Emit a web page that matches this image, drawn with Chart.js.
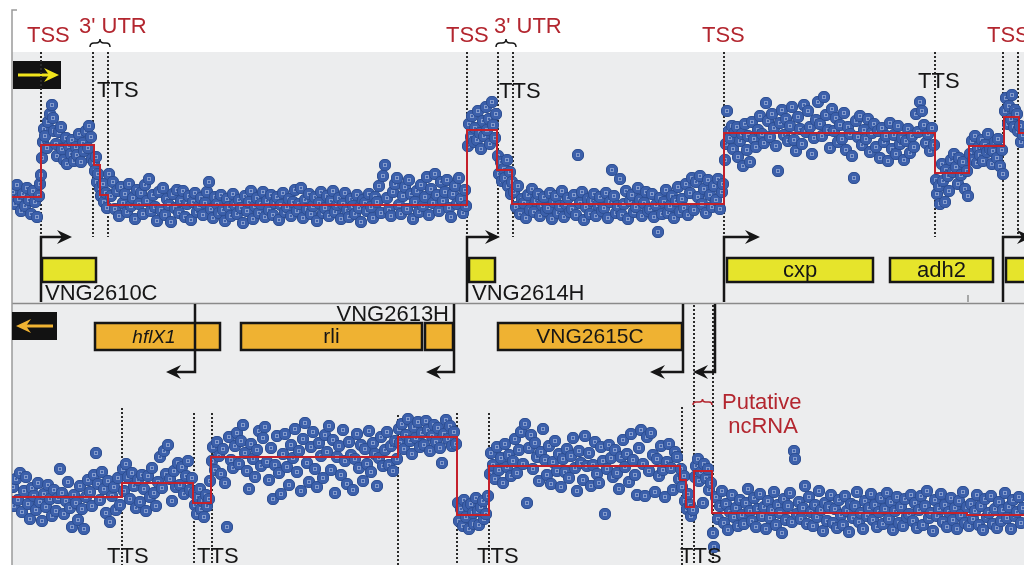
<!DOCTYPE html>
<html>
<head>
<meta charset="utf-8">
<script src="https://cdn.jsdelivr.net/npm/chart.js@4.4.1/dist/chart.umd.min.js"></script>
<style>
  html, body { margin: 0; padding: 0; background: #fff; overflow: hidden; }
  #wrap { position: relative; width: 1024px; height: 565px; }
  canvas { position: absolute; left: 0; display: block; }
  #fwd { top: 0; }
  #rev { top: 302px; }
</style>
</head>
<body>
<div id="wrap">
  <canvas id="fwd" width="1024" height="302"></canvas>
  <canvas id="rev" width="1024" height="263"></canvas>
</div>
<script>
// probe signal, forward strand: [position, log2 intensity]
const fwdProbes = [
  [13,10.8],[15,9.6],[17,11.5],[19,10.1],[21,8.9],[23,10.6],[25,9.4],[27,11.2],[29,10.0],[31,8.6],[33,10.9],[35,9.8],[37,8.3],[39,10.4],[40,11.6],
  [41,12.5],[42,14.2],[43,15.8],[44,17.1],[45,16.4],[47,15.2],[48,17.8],[50,18.6],[52,19.5],[53,18.2],[54,16.9],[56,15.6],[57,14.4],[59,16.8],[61,17.3],[62,15.1],[64,14.0],[66,16.2],[67,13.6],[69,15.4],[71,14.6],[72,16.0],[74,13.9],[76,15.3],[77,14.5],[79,16.6],[81,13.8],[83,15.7],[84,14.9],[86,16.9],[88,15.2],[89,17.4],[91,16.3],[92,14.1],
  [94,13.8],[95,12.9],[96,14.3],[97,11.8],[98,12.6],[100,11.2],[101,10.4],[103,11.6],[104,9.8],[106,10.7],[107,9.2],
  [109,12.6],[111,10.4],[113,11.8],[115,9.1],[117,10.9],[119,8.4],[121,11.3],[123,9.7],[125,10.6],[127,8.8],[129,11.6],[131,9.4],[133,10.2],[135,8.1],[137,11.0],[139,9.6],[141,10.7],[143,8.6],[145,11.5],[147,9.9],[149,12.1],[151,8.9],[153,10.5],[155,9.3],[157,7.9],[159,10.8],[161,9.0],[163,11.2],[165,8.5],[167,10.1],[169,9.5],[171,7.8],[173,10.6],[175,9.2],[177,11.0],[179,8.7],[181,9.9],[183,10.9],[185,8.3],[187,9.6],[189,10.4],[191,8.0],[193,9.8],[195,10.7],[197,8.8],[199,9.4],[201,10.2],[203,8.5],[205,9.7],[207,10.8],[209,11.8],[211,9.1],[213,8.2],[215,10.3],[217,9.6],[219,8.7],[221,10.5],[223,9.0],[225,7.9],[227,10.1],[229,9.3],[231,8.4],[233,10.6],[235,9.5],[237,8.6],[239,10.0],[241,9.2],[243,7.7],[245,10.4],[247,8.9],[249,9.8],[251,10.9],[253,8.1],[255,9.4],[257,10.2],[259,8.7],[261,9.6],[263,10.8],[265,8.3],[267,9.9],[269,9.0],[271,10.5],[273,8.5],[275,9.7],[277,10.3],[279,8.0],[281,9.5],[283,10.7],[285,8.8],[287,9.3],[289,10.1],[291,8.4],[293,9.8],[295,11.0],[297,8.9],[299,9.6],[301,11.2],[303,8.2],[305,10.0],[307,9.1],[309,10.6],[311,8.6],[313,9.4],[315,10.3],[317,7.9],[319,9.7],[321,10.8],[323,8.7],[325,9.2],[327,10.4],[329,8.4],[331,9.9],[333,10.9],[335,8.8],[337,9.5],[339,10.2],[341,8.1],[343,9.6],[345,10.7],[347,9.0],[349,8.3],[351,10.1],[353,9.4],[355,8.6],[357,10.5],[359,9.2],[361,7.8],[363,10.0],[365,9.7],[367,8.9],[369,10.6],[371,9.3],[373,8.2],[375,10.3],[377,9.8],[379,11.4],[381,8.7],[383,12.4],[385,13.5],[387,10.2],[389,9.0],[391,8.4],[393,10.8],[395,11.6],[397,12.2],[399,9.5],[401,8.6],[403,10.4],[405,11.3],[407,9.1],[409,12.0],[411,10.6],[413,8.1],[415,9.8],[417,10.9],[419,8.8],[421,11.5],[423,9.4],[425,10.3],[427,12.3],[429,8.5],[431,11.1],[433,9.7],[435,12.6],[437,10.5],[439,8.9],[441,11.8],[443,9.9],[445,10.8],[447,12.0],[449,9.2],[451,8.3],[453,10.6],[455,11.4],[457,9.6],[459,12.2],[461,10.1],[463,8.7],[465,11.0],[466,9.4],
  [468,15.4],[469,17.6],[471,16.3],[472,18.4],[474,15.8],[475,17.2],[477,16.0],[478,18.9],[480,16.7],[481,15.1],[483,17.9],[484,16.4],[486,19.3],[487,17.0],[489,18.1],[490,15.6],[492,19.8],[493,17.5],[495,16.2],[496,18.6],
  [498,14.4],[499,12.6],[501,13.8],[502,11.9],[504,13.1],[505,12.2],[507,14.0],[508,11.4],[510,12.8],[511,10.6],[512,11.8],
  [514,10.8],[516,9.3],[518,11.4],[520,8.6],[522,10.1],[524,9.7],[526,8.2],[528,10.5],[530,9.0],[532,11.1],[534,8.8],[536,9.9],[538,10.6],[540,8.4],[542,9.5],[544,10.3],[546,8.9],[548,9.2],[550,10.7],[552,8.1],[554,9.8],[556,10.4],[558,8.7],[560,9.4],[562,10.9],[564,8.3],[566,9.6],[568,10.2],[570,8.8],[572,9.1],[574,10.5],[576,8.5],[578,14.5],[580,9.7],[582,10.8],[584,8.0],[586,9.3],[588,10.1],[590,8.6],[592,9.9],[594,10.6],[596,8.4],[598,9.5],[600,10.3],[602,8.9],[604,9.2],[606,10.7],[608,8.2],[610,9.8],[612,13.0],[614,10.4],[616,8.7],[618,9.4],[620,12.1],[622,8.5],[624,9.6],[626,10.9],[628,8.1],[630,9.9],[632,10.5],[634,8.8],[636,9.3],[638,11.2],[640,10.0],[642,8.4],[644,9.7],[646,10.8],[648,8.9],[650,9.1],[652,10.6],[654,8.3],[656,9.5],[658,6.8],[660,10.2],[662,8.6],[664,9.8],[666,11.0],[668,8.7],[670,9.4],[672,10.4],[674,8.2],[676,9.9],[678,11.3],[680,8.8],[682,10.1],[684,9.2],[686,11.6],[688,8.5],[690,10.7],[692,12.2],[694,9.0],[696,11.8],[698,10.3],[700,12.4],[702,9.6],[704,11.1],[706,8.7],[708,12.0],[710,10.5],[712,9.3],[714,11.4],[716,10.0],[718,12.1],[720,9.1],[722,10.8],[723,11.6],
  [725,14.0],[726,15.6],[727,18.9],[729,16.9],[730,16.2],[732,17.4],[733,15.1],[735,16.8],[737,17.3],[738,14.3],[740,15.9],[742,16.6],[743,13.4],[745,17.6],[747,15.0],[748,16.4],[750,13.8],[752,17.8],[754,16.1],[756,15.3],[758,17.0],[760,18.4],[762,16.6],[764,15.7],[766,19.7],[768,17.9],[770,16.3],[772,18.6],[774,17.2],[776,15.4],[778,12.9],[780,17.7],[782,19.0],[784,16.5],[786,18.1],[788,15.9],[790,17.4],[792,19.3],[794,16.0],[796,14.9],[798,18.3],[800,17.1],[802,15.6],[804,19.5],[806,16.8],[808,18.9],[810,17.3],[812,14.6],[814,16.2],[816,18.0],[818,19.8],[820,17.6],[822,16.4],[824,20.3],[826,18.5],[828,17.0],[830,15.2],[832,19.1],[834,16.9],[836,18.2],[838,15.8],[840,17.5],[842,16.1],[844,18.7],[846,15.0],[848,17.3],[850,16.6],[852,14.4],[854,12.2],[856,17.9],[858,16.3],[860,18.4],[862,15.5],[864,17.0],[866,16.1],[868,18.1],[870,14.8],[872,16.7],[874,17.6],[876,15.3],[878,16.9],[880,14.2],[882,17.2],[884,15.8],[886,16.4],[888,13.9],[890,17.7],[892,15.1],[894,16.5],[896,14.6],[898,17.4],[900,15.6],[902,16.2],[904,14.0],[906,15.9],[908,17.1],[910,14.7],[912,16.4],[914,15.3],[916,18.6],[918,16.8],[920,19.8],[922,18.9],[924,17.5],[926,15.7],[928,16.6],[930,14.9],[932,17.2],[934,15.5],
  [936,12.0],[937,10.6],[939,11.4],[940,9.6],[942,13.6],[943,11.9],[945,9.8],[946,13.0],[948,12.4],[949,10.9],[951,14.0],[953,12.8],[954,14.6],[956,13.3],[958,11.6],[959,14.2],[961,12.5],[963,13.8],[965,11.1],[967,12.9],[968,10.4],
  [970,14.6],[972,15.9],[973,14.0],[975,16.4],[977,13.7],[978,15.2],[980,14.5],[982,16.0],[983,13.9],[985,15.5],[987,14.8],[988,16.6],[990,15.1],[992,13.6],[993,14.9],[995,15.8],[997,14.2],[998,16.1],[1000,13.4],[1002,15.0],[1003,12.6],
  [1005,18.9],[1006,20.2],[1008,17.6],[1009,19.4],[1011,18.1],[1012,20.5],[1014,17.3],[1015,19.0],[1017,18.6],[1018,16.9],
  [1020,17.4],[1021,15.8],[1023,16.5]
];

// probe signal, reverse strand
const revProbes = [
  [13,10.8],[14,8.9],[16,11.6],[18,9.5],[20,12.2],[22,8.3],[24,10.4],[26,11.8],[28,9.1],[30,7.6],[32,10.7],[34,9.9],[36,8.5],[38,11.2],[40,9.3],[42,7.4],[44,10.1],[46,8.8],[48,11.0],[50,9.6],[52,7.9],[54,10.5],[56,8.4],[58,9.7],[60,12.6],[62,10.2],[64,8.1],[66,9.4],[68,11.3],[70,8.7],[72,6.8],[74,10.0],[76,9.2],[78,7.5],[80,10.9],[82,8.6],[84,6.6],[86,9.8],[88,11.5],[90,10.3],[92,8.9],[94,12.0],[96,14.2],[98,11.1],[100,9.5],[102,12.3],[104,10.6],[106,8.2],[108,11.4],[110,7.3],[112,9.9],[114,10.8],[116,8.5],[118,11.7],[120,9.0],
  [123,12.6],[124,10.4],[126,13.1],[128,11.8],[130,9.6],[132,12.2],[134,10.9],[136,8.7],[138,11.5],[140,9.3],[142,12.0],[144,10.6],[146,8.4],[148,11.9],[150,9.8],[152,12.7],[154,10.2],[156,8.9],[158,11.3],[160,13.8],[162,10.7],[164,14.4],[166,12.1],[168,15.0],[170,11.6],[172,9.4],[174,12.4],[176,10.8],[178,13.2],[180,11.0],[182,12.8],[184,10.1],[186,11.9],[188,13.4],[190,10.5],[192,11.7],
  [194,10.2],[195,9.0],[197,8.1],[198,9.8],[200,10.6],[201,8.6],[203,9.4],[204,7.8],[206,10.0],[207,8.9],[209,9.6],[210,11.4],
  [212,13.4],[213,14.8],[215,12.5],[217,15.3],[219,13.9],[221,12.1],[223,14.6],[225,11.2],[227,6.8],[229,15.8],[231,13.5],[233,12.7],[235,14.9],[237,16.2],[239,13.1],[241,15.4],[243,17.0],[245,14.2],[247,12.4],[249,10.6],[251,15.1],[253,13.6],[255,11.8],[257,14.5],[259,16.4],[261,12.9],[263,15.7],[265,16.8],[267,13.3],[269,11.5],[271,14.7],[273,9.6],[275,13.0],[277,15.9],[279,12.2],[281,10.1],[283,14.1],[285,16.1],[287,12.8],[289,11.0],[291,15.0],[293,13.7],[295,16.6],[297,12.3],[299,14.4],[301,10.4],[303,15.6],[305,17.2],[307,13.2],[309,11.3],[311,14.8],[313,16.3],[315,12.6],[317,10.8],[319,15.2],[321,13.9],[323,11.7],[325,16.0],[327,14.3],[329,16.9],[331,12.5],[333,15.5],[335,10.2],[337,13.8],[339,14.9],[341,12.0],[343,16.5],[345,13.4],[347,11.1],[349,15.3],[351,14.0],[353,10.5],[355,13.6],[357,16.1],[359,12.7],[361,15.0],[363,11.4],[365,14.6],[367,13.1],[369,16.4],[371,12.3],[373,15.2],[375,14.1],[377,10.9],[379,13.7],[381,15.8],[383,12.9],[385,14.5],[387,16.3],[389,13.0],[391,14.9],[393,12.4],[395,15.4],[397,13.6],
  [399,16.6],[400,15.2],[402,17.1],[404,14.6],[406,16.0],[408,17.6],[410,15.4],[412,14.1],[414,16.8],[416,15.7],[418,17.3],[420,14.8],[422,16.2],[424,15.0],[426,17.4],[428,16.5],[430,14.4],[432,15.9],[434,17.0],[436,15.3],[438,16.7],[440,14.7],[442,13.2],[444,16.1],[446,17.5],[448,15.6],[450,16.9],[452,14.9],[454,16.3],[456,15.1],
  [458,9.2],[459,7.4],[461,8.6],[463,6.9],[464,9.5],[466,7.8],[468,8.9],[469,6.6],[471,9.1],[473,8.2],[474,7.1],[476,9.7],[478,8.4],[479,7.0],[481,8.8],[483,9.4],[484,7.6],[486,8.1],[488,9.9],
  [490,12.1],[491,14.2],[493,13.0],[495,11.6],[497,14.8],[499,12.5],[501,13.7],[503,11.2],[505,15.1],[507,12.8],[509,14.0],[511,11.9],[513,13.4],[515,15.6],[517,12.2],[519,14.5],[521,16.3],[523,13.1],[525,17.1],[527,9.2],[529,14.7],[531,16.0],[533,12.6],[535,15.2],[537,13.8],[539,11.4],[541,14.3],[543,16.6],[545,13.5],[547,12.0],[549,14.9],[551,11.1],[553,13.3],[555,15.4],[557,12.4],[559,14.1],[561,10.8],[563,13.6],[565,12.3],[567,14.6],[569,11.7],[571,13.9],[573,15.7],[575,12.7],[577,10.4],[579,14.4],[581,13.2],[583,11.5],[585,15.9],[587,12.9],[589,14.2],[591,10.9],[593,13.0],[595,15.3],[597,12.1],[599,11.2],[601,14.8],[603,13.4],[605,8.1],[607,12.6],[609,15.0],[611,13.7],[613,11.8],[615,14.5],[617,12.2],[619,10.6],[621,13.8],[623,15.5],[625,12.8],[627,14.1],[629,11.3],[631,16.1],[633,13.5],[635,12.0],[637,10.0],[639,14.7],[641,16.5],[643,13.1],[645,9.9],[647,15.8],[649,12.4],[651,16.2],[653,14.0],[655,10.3],[657,13.6],[659,11.9],[661,14.9],[663,12.5],[665,9.8],[667,13.3],[669,15.1],[671,12.7],[673,10.5],[675,14.3],[677,13.8],[679,11.6],
  [681,12.6],[682,10.8],[684,11.9],[685,9.4],[687,8.6],[688,10.1],[690,9.0],[691,7.9],[693,8.5],[695,11.8],[696,12.9],[698,13.6],[699,11.4],[701,12.3],[703,9.2],[704,13.1],[706,11.7],[708,12.6],[709,10.5],[711,11.2],[713,6.2],[714,4.8],
  [716,9.8],[718,7.6],[720,8.9],[722,10.4],[724,7.2],[726,9.1],[728,6.5],[730,8.3],[732,10.0],[734,7.8],[736,8.7],[738,6.9],[740,9.5],[742,8.0],[744,7.1],[746,9.2],[748,10.6],[750,8.4],[752,7.4],[754,9.7],[756,6.8],[758,8.6],[760,10.1],[762,7.9],[764,8.8],[766,6.6],[768,9.4],[770,7.7],[772,8.5],[774,10.3],[776,7.0],[778,9.0],[780,8.2],[782,6.2],[784,9.6],[786,7.5],[788,8.9],[790,10.2],[792,7.3],[794,14.4],[795,13.6],[797,8.1],[799,9.3],[801,7.6],[803,8.7],[805,10.9],[807,7.1],[809,9.8],[811,8.3],[813,6.9],[815,9.0],[817,7.8],[819,10.4],[821,8.5],[823,6.4],[825,9.2],[827,7.4],[829,8.8],[831,10.0],[833,7.2],[835,8.6],[837,6.7],[839,9.5],[841,8.0],[843,7.0],[845,9.9],[847,8.4],[849,6.3],[851,9.1],[853,7.7],[855,8.9],[857,10.3],[859,7.3],[861,8.2],[863,6.6],[865,9.4],[867,7.9],[869,8.7],[871,10.1],[873,7.5],[875,9.0],[877,6.8],[879,8.3],[881,9.7],[883,7.1],[885,8.6],[887,10.2],[889,7.6],[891,9.3],[893,6.5],[895,8.4],[897,9.8],[899,7.2],[901,8.8],[903,6.9],[905,9.6],[907,7.8],[909,8.1],[911,10.0],[913,7.4],[915,9.2],[917,6.7],[919,8.5],[921,9.9],[923,7.0],[925,8.9],[927,10.4],[929,7.7],[931,8.2],[933,6.4],[935,9.5],[937,7.9],[939,8.6],[941,10.1],[943,7.3],[945,9.0],[947,6.8],[949,8.3],[951,9.7],[953,7.5],[955,8.7],[957,6.6],[959,9.4],[961,8.0],[963,10.3],[965,7.2],[967,8.8],[969,6.9],[971,9.1],[973,7.6],[975,8.4],[977,10.0],[979,7.0],[981,8.9],[983,6.5],[985,9.6],[987,7.8],[989,8.2],[991,9.9],[993,7.1],[995,8.6],[997,6.7],[999,9.3],[1001,7.4],[1003,8.5],[1005,10.2],[1007,7.7],[1009,8.8],[1011,6.6],[1013,9.5],[1015,7.9],[1017,8.3],[1019,9.8],[1021,7.2],[1023,8.7]
];

// segmentation: [start, end, level]
const fwdSegments = [[12,41,10.3],[41,94,15.5],[94,100,13.5],[100,108,10.5],[108,467,9.5],[467,497,17.0],[497,512,13.0],[512,724,9.6],[724,935,16.7],[935,969,12.7],[969,1004,15.4],[1004,1019,18.3],[1019,1024,16.7]];
const revSegments = [[12,122,9.8],[122,193,11.2],[193,211,9.2],[211,398,13.8],[398,457,15.8],[457,489,8.0],[489,680,12.9],[680,686,11.5],[686,694,8.8],[694,712,12.4],[712,967,8.2],[967,1024,8.0]];

// transcript boundaries (dotted lines)
const fwdBounds = [41, 93, 108, 467, 498, 513, 724, 935, 1003, 1018];
const revBounds = [122, 194, 212, 398, 457, 489, 682, 694, 713];
const revBoundTop = [18.7, 18.2, 18.2, 18.0, 18.2, 18.2, 18.8, 29, 29];

// annotations
const headerLabels = [['TSS', 27, 'low'], ["3' UTR", 79, 'high'], ['TSS', 446, 'low'], ["3' UTR", 494, 'high'], ['TSS', 702, 'low'], ['TSS', 987, 'low']];
const utrBraces = [[90, 110], [496, 516]];
const fwdTTS = [[97, 20.3], [499, 20.2], [918, 21.2]];
const revTTS = [107, 197, 477, 680];
const fwdGenes = [[42, 96, 'VNG2610C', 'below'], [469, 495, 'VNG2614H', 'below'], [727, 873, 'cxp', 'inside'], [890, 993, 'adh2', 'inside'], [1006, 1040, '', 'inside']];
const revGenes = [[95, 220, 'hflX1', 'italic'], [241, 422, 'rli', 'inside'], [425, 453, '', 'inside'], [498, 682, 'VNG2615C', 'inside']];
const fwdPromoters = [[41, 72], [467, 500], [724, 760], [1003, 1032]];
const revPromoters = [[195, 166], [454, 426], [683, 650], [715, 693]];

const FONT = '"Liberation Sans", Arial, Helvetica, sans-serif';
const RED = '#b3262f';
const INK = '#161616';
const PANEL_BG = '#ecedee';

function probeGlyph() {
  const c = document.createElement('canvas');
  c.width = 12; c.height = 12;
  const g = c.getContext('2d');
  g.fillStyle = '#3c60ab';
  g.strokeStyle = '#2e4f93';
  g.lineWidth = 1;
  g.beginPath();
  g.roundRect(0.5, 0.5, 11, 11, 4.5);
  g.fill();
  g.stroke();
  g.strokeStyle = 'rgba(220,228,245,0.45)';
  g.strokeRect(4.5, 4.5, 3, 3);
  return c;
}

function stepLine(segs) {
  const pts = [];
  segs.forEach(s => {
    pts.push({ x: s[0], y: s[2] });
    pts.push({ x: s[1], y: s[2] });
  });
  return pts;
}

function arrowHead(ctx, x, y, dir) {
  ctx.beginPath();
  ctx.moveTo(x, y);
  ctx.lineTo(x - dir * 15, y - 7);
  ctx.lineTo(x - dir * 10, y);
  ctx.lineTo(x - dir * 15, y + 7);
  ctx.closePath();
  ctx.fill();
}

function brace(ctx, x1, x2, y, h) {
  const m = (x1 + x2) / 2;
  ctx.beginPath();
  ctx.moveTo(x1, y + h);
  ctx.quadraticCurveTo(x1, y, x1 + h, y);
  ctx.lineTo(m - h, y);
  ctx.quadraticCurveTo(m, y, m, y - h);
  ctx.quadraticCurveTo(m, y, m + h, y);
  ctx.lineTo(x2 - h, y);
  ctx.quadraticCurveTo(x2, y, x2, y + h);
  ctx.stroke();
}

function dotted(ctx, x, y1, y2) {
  ctx.save();
  ctx.setLineDash([2, 2]);
  ctx.lineWidth = 2;
  ctx.strokeStyle = '#2a2a2a';
  ctx.beginPath();
  ctx.moveTo(x, y1);
  ctx.lineTo(x, y2);
  ctx.stroke();
  ctx.restore();
}

function geneBox(ctx, x1, x2, y1, y2, fill) {
  ctx.fillStyle = fill;
  ctx.fillRect(x1, y1, x2 - x1, y2 - y1);
  ctx.lineWidth = 2.5;
  ctx.strokeStyle = INK;
  ctx.strokeRect(x1, y1, x2 - x1, y2 - y1);
}

const fwdDecor = {
  id: 'fwdDecor',
  beforeDatasetsDraw(chart) {
    const { ctx, chartArea: a, scales: { x, y } } = chart;
    ctx.save();
    ctx.fillStyle = '#fff';
    ctx.fillRect(0, 0, chart.width, chart.height);
    ctx.fillStyle = PANEL_BG;
    ctx.fillRect(a.left, a.top, chart.width - a.left, chart.height - a.top);

    // left frame line with top tick
    ctx.strokeStyle = '#9a9a9a';
    ctx.lineWidth = 1.5;
    ctx.beginPath();
    ctx.moveTo(17, 10); ctx.lineTo(12, 10); ctx.lineTo(12, chart.height);
    ctx.stroke();

    // strand indicator
    ctx.fillStyle = '#121212';
    ctx.fillRect(13, 61, 48, 28);
    ctx.strokeStyle = '#f2e51c';
    ctx.fillStyle = '#f2e51c';
    ctx.lineWidth = 3;
    ctx.beginPath(); ctx.moveTo(18, 75); ctx.lineTo(50, 75); ctx.stroke();
    arrowHead(ctx, 59, 75, 1);

    const yb = y.getPixelForValue(6.3);
    fwdBounds.forEach(b => dotted(ctx, x.getPixelForValue(b), a.top, yb));

    fwdGenes.forEach(g => {
      geneBox(ctx, x.getPixelForValue(g[0]), x.getPixelForValue(g[1]), y.getPixelForValue(4.2), y.getPixelForValue(1.8), '#e6e42b');
    });

    ctx.strokeStyle = INK;
    ctx.fillStyle = INK;
    ctx.lineWidth = 2.5;
    fwdPromoters.forEach(p => {
      const px = x.getPixelForValue(p[0]);
      const pe = x.getPixelForValue(p[1]);
      ctx.beginPath();
      ctx.moveTo(px, chart.height);
      ctx.lineTo(px, yb);
      ctx.lineTo(pe - 8, yb);
      ctx.stroke();
      arrowHead(ctx, pe, yb, 1);
    });

    // small tick on the separator
    ctx.lineWidth = 1.2;
    ctx.strokeStyle = '#777';
    ctx.beginPath();
    ctx.moveTo(x.getPixelForValue(968), chart.height - 7);
    ctx.lineTo(x.getPixelForValue(968), chart.height);
    ctx.stroke();
    ctx.restore();
  },
  afterDatasetsDraw(chart) {
    const { ctx, scales: { x, y } } = chart;
    ctx.save();
    ctx.font = '22px ' + FONT;
    ctx.textBaseline = 'alphabetic';
    ctx.fillStyle = RED;
    headerLabels.forEach(l => {
      ctx.fillText(l[0], x.getPixelForValue(l[1]), l[2] === 'low' ? 42 : 33);
    });
    ctx.strokeStyle = INK;
    ctx.lineWidth = 1.5;
    utrBraces.forEach(b => brace(ctx, x.getPixelForValue(b[0]), x.getPixelForValue(b[1]), 43, 4));

    ctx.fillStyle = INK;
    fwdTTS.forEach(t => ctx.fillText('TTS', x.getPixelForValue(t[0]), y.getPixelForValue(t[1])));

    fwdGenes.forEach(g => {
      if (!g[2]) return;
      ctx.font = '22px ' + FONT;
      if (g[3] === 'below') {
        ctx.textAlign = 'left';
        ctx.fillText(g[2], x.getPixelForValue(g[0]) + 3, chart.height - 2);
      } else {
        ctx.textAlign = 'center';
        ctx.fillText(g[2], x.getPixelForValue((g[0] + g[1]) / 2), y.getPixelForValue(2.3));
      }
    });
    ctx.restore();
  }
};

const revDecor = {
  id: 'revDecor',
  beforeDatasetsDraw(chart) {
    const { ctx, chartArea: a, scales: { x, y } } = chart;
    ctx.save();
    ctx.fillStyle = '#fff';
    ctx.fillRect(0, 0, chart.width, chart.height);
    ctx.fillStyle = PANEL_BG;
    ctx.fillRect(a.left, 0, chart.width - a.left, chart.height);

    // separator between strands
    ctx.strokeStyle = '#8a8a8a';
    ctx.lineWidth = 1.5;
    ctx.beginPath(); ctx.moveTo(12, 1.5); ctx.lineTo(chart.width, 1.5); ctx.stroke();
    ctx.strokeStyle = '#9a9a9a';
    ctx.beginPath(); ctx.moveTo(12, 0); ctx.lineTo(12, chart.height); ctx.stroke();

    // strand indicator
    ctx.fillStyle = '#121212';
    ctx.fillRect(12, 10, 45, 28);
    ctx.strokeStyle = '#f0b332';
    ctx.fillStyle = '#f0b332';
    ctx.lineWidth = 3;
    ctx.beginPath(); ctx.moveTo(24, 24); ctx.lineTo(53, 24); ctx.stroke();
    arrowHead(ctx, 16, 24, -1);

    revBounds.forEach((b, i) => dotted(ctx, x.getPixelForValue(b), y.getPixelForValue(revBoundTop[i]), chart.height));

    revGenes.forEach(g => {
      geneBox(ctx, x.getPixelForValue(g[0]), x.getPixelForValue(g[1]), y.getPixelForValue(27.2), y.getPixelForValue(24.5), '#efb232');
    });

    ctx.strokeStyle = INK;
    ctx.fillStyle = INK;
    ctx.lineWidth = 2.5;
    const ya = y.getPixelForValue(22.3);
    revPromoters.forEach(p => {
      const px = x.getPixelForValue(p[0]);
      const pe = x.getPixelForValue(p[1]);
      ctx.beginPath();
      ctx.moveTo(px, 2);
      ctx.lineTo(px, ya);
      ctx.lineTo(pe + 8, ya);
      ctx.stroke();
      arrowHead(ctx, pe, ya, -1);
    });
    ctx.restore();
  },
  afterDatasetsDraw(chart) {
    const { ctx, scales: { x, y } } = chart;
    ctx.save();
    ctx.fillStyle = INK;
    ctx.textBaseline = 'alphabetic';
    revGenes.forEach(g => {
      if (!g[2]) return;
      ctx.font = (g[3] === 'italic' ? 'italic 19px ' : '21px ') + FONT;
      ctx.textAlign = 'center';
      const cx = g[3] === 'italic' ? x.getPixelForValue(154) : x.getPixelForValue((g[0] + g[1]) / 2);
      ctx.fillText(g[2], cx, y.getPixelForValue(25.2));
    });
    ctx.font = '22px ' + FONT;
    ctx.textAlign = 'right';
    ctx.fillText('VNG2613H', x.getPixelForValue(449), y.getPixelForValue(27.4));

    ctx.textAlign = 'left';
    revTTS.forEach(t => ctx.fillText('TTS', x.getPixelForValue(t), y.getPixelForValue(3.2)));

    ctx.fillStyle = RED;
    ctx.fillText('Putative', x.getPixelForValue(722), y.getPixelForValue(18.6));
    ctx.textAlign = 'center';
    ctx.fillText('ncRNA', x.getPixelForValue(763), y.getPixelForValue(16.2));
    ctx.strokeStyle = RED;
    ctx.lineWidth = 1.5;
    brace(ctx, x.getPixelForValue(693), x.getPixelForValue(712), y.getPixelForValue(19.3), 3);
    ctx.restore();
  }
};

const glyph = probeGlyph();

function strandChart(id, probes, segs, yMin, yMax, padding, decor) {
  return new Chart(document.getElementById(id), {
    type: 'scatter',
    data: {
      datasets: [
        {
          type: 'line',
          data: stepLine(segs),
          borderColor: '#c4212b',
          borderWidth: 2,
          pointRadius: 0,
          tension: 0,
          fill: false,
          clip: false,
          order: 0
        },
        {
          data: probes.map(p => ({ x: p[0], y: p[1] })),
          pointStyle: glyph,
          pointRadius: 6,
          order: 1
        }
      ]
    },
    options: {
      responsive: false,
      devicePixelRatio: 1,
      animation: false,
      events: [],
      layout: { autoPadding: false, padding: padding },
      scales: {
        x: { type: 'linear', min: 12, max: 1024, display: false },
        y: { min: yMin, max: yMax, display: false }
      },
      plugins: { legend: { display: false }, tooltip: { enabled: false } }
    },
    plugins: [decor]
  });
}

strandChart('fwd', fwdProbes, fwdSegments, 0, 24.8, { top: 52, left: 12, right: 0, bottom: 2 }, fwdDecor);
strandChart('rev', revProbes, revSegments, 3, 29, { top: 3, left: 12, right: 0, bottom: 0 }, revDecor);
</script>
</body>
</html>
